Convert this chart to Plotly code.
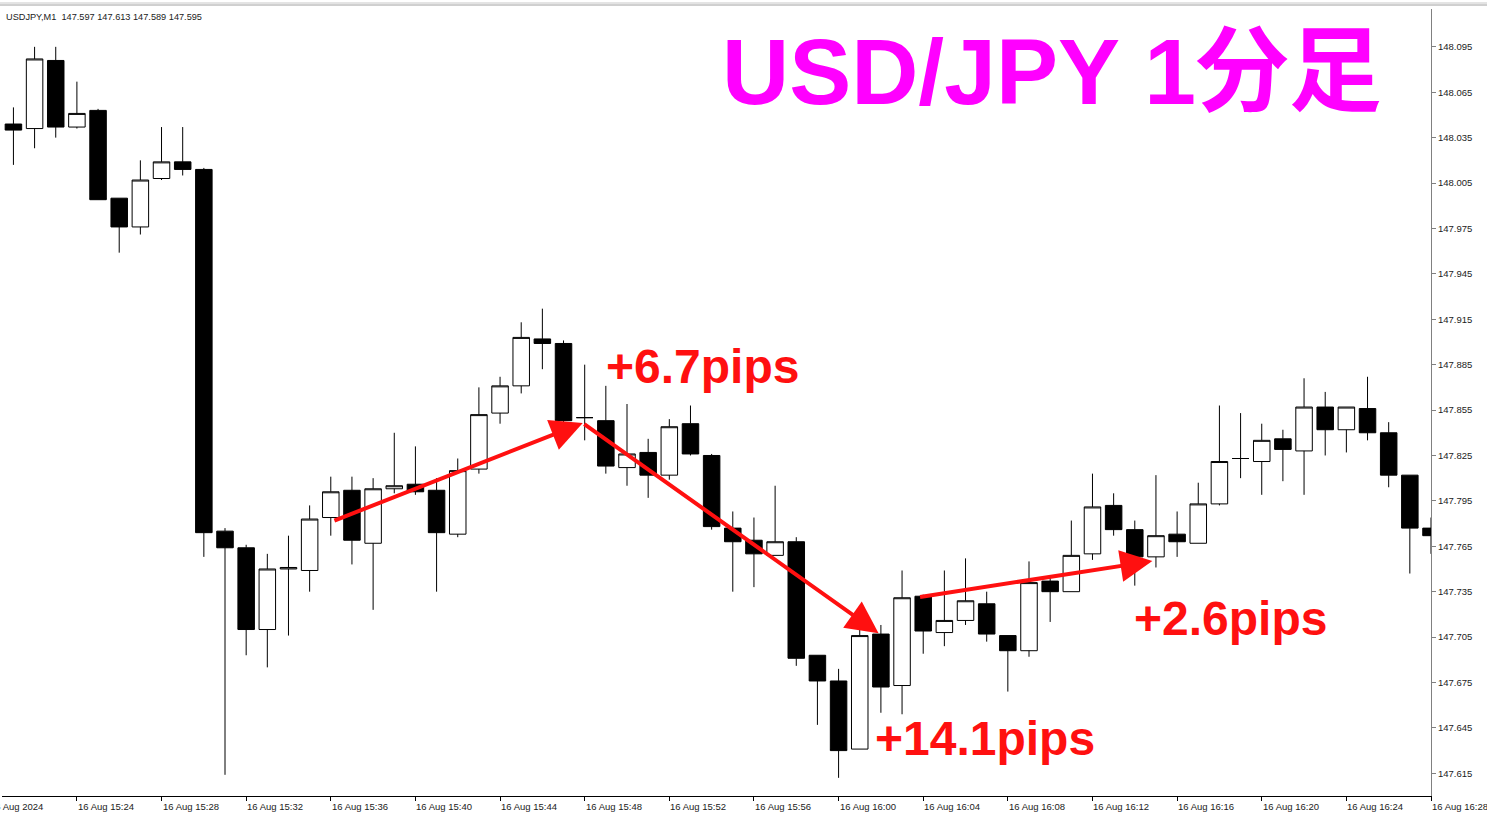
import plotly.graph_objects as go

# ─────────────────────────────────────────────────────────────
# USD/JPY M1 candles, 16 Aug 2024 15:21 .. 16:28
# ─────────────────────────────────────────────────────────────
candle_idx = list(range(68))

opens = [148.044, 148.041, 148.086, 148.042, 148.053, 147.995, 147.976, 148.008, 148.019, 148.014,
         147.775, 147.764, 147.710, 147.750, 147.749, 147.784, 147.802, 147.767, 147.803, 147.806,
         147.802, 147.773, 147.816, 147.853, 147.871, 147.902, 147.899, 147.850, 147.848, 147.817,
         147.827, 147.812, 147.846, 147.825, 147.777, 147.769, 147.759, 147.768, 147.693, 147.676,
         147.631, 147.707, 147.673, 147.732, 147.708, 147.716, 147.727, 147.706, 147.696, 147.742,
         147.735, 147.760, 147.792, 147.776, 147.758, 147.773, 147.767, 147.793, 147.823, 147.821,
         147.836, 147.828, 147.857, 147.842, 147.856, 147.840, 147.812, 147.777]

highs = [148.055, 148.095, 148.095, 148.072, 148.054, 147.995, 148.020, 148.042, 148.042, 148.015,
         147.777, 147.766, 147.760, 147.772, 147.792, 147.811, 147.811, 147.810, 147.840, 147.831,
         147.810, 147.823, 147.870, 147.877, 147.913, 147.922, 147.901, 147.885, 147.871, 147.859,
         147.836, 147.849, 147.858, 147.826, 147.788, 147.784, 147.805, 147.771, 147.693, 147.684,
         147.724, 147.713, 147.749, 147.733, 147.749, 147.757, 147.735, 147.706, 147.755, 147.744,
         147.782, 147.813, 147.800, 147.782, 147.812, 147.788, 147.807, 147.858, 147.853, 147.846,
         147.842, 147.876, 147.867, 147.857, 147.877, 147.847, 147.812, 147.784]

lows = [148.017, 148.028, 148.035, 148.041, 147.994, 147.959, 147.971, 148.007, 148.010, 147.758,
        147.614, 147.693, 147.685, 147.706, 147.735, 147.772, 147.753, 147.723, 147.800, 147.799,
        147.735, 147.771, 147.813, 147.846, 147.866, 147.882, 147.846, 147.835, 147.813, 147.805,
        147.797, 147.809, 147.825, 147.776, 147.735, 147.738, 147.759, 147.686, 147.647, 147.612,
        147.631, 147.655, 147.654, 147.694, 147.699, 147.713, 147.702, 147.669, 147.692, 147.715,
        147.735, 147.756, 147.772, 147.739, 147.751, 147.758, 147.767, 147.792, 147.810, 147.799,
        147.808, 147.799, 147.825, 147.827, 147.835, 147.804, 147.747, 147.760]

closes = [148.040, 148.087, 148.042, 148.051, 147.994, 147.976, 148.007, 148.019, 148.014, 147.774,
          147.764, 147.710, 147.750, 147.751, 147.783, 147.801, 147.769, 147.803, 147.805, 147.801,
          147.774, 147.815, 147.852, 147.871, 147.903, 147.899, 147.848, 147.850, 147.818, 147.826,
          147.812, 147.844, 147.826, 147.778, 147.768, 147.760, 147.768, 147.691, 147.676, 147.630,
          147.706, 147.672, 147.731, 147.709, 147.716, 147.729, 147.707, 147.696, 147.741, 147.735,
          147.759, 147.791, 147.776, 147.758, 147.772, 147.768, 147.793, 147.821, 147.823, 147.835,
          147.829, 147.857, 147.842, 147.857, 147.840, 147.812, 147.777, 147.772]

# time axis labels (every 4 candles, first one is cut by the window edge)
time_tick_pos = [-1, 3, 7, 11, 15, 19, 23, 27, 31, 35, 39, 43, 47, 51, 55, 59, 63, 67]
time_tick_text = ["16 Aug 2024", "16 Aug 15:24", "16 Aug 15:28", "16 Aug 15:32", "16 Aug 15:36",
                  "16 Aug 15:40", "16 Aug 15:44", "16 Aug 15:48", "16 Aug 15:52", "16 Aug 15:56",
                  "16 Aug 16:00", "16 Aug 16:04", "16 Aug 16:08", "16 Aug 16:12", "16 Aug 16:16",
                  "16 Aug 16:20", "16 Aug 16:24", "16 Aug 16:28"]

price_ticks = [147.615, 147.645, 147.675, 147.705, 147.735, 147.765, 147.795, 147.825,
               147.855, 147.885, 147.915, 147.945, 147.975, 148.005, 148.035, 148.065, 148.095]

# arrows: (tail index, tail price, head index, head price)
arrows = [
    (15.10, 147.7816, 26.91, 147.8464),
    (26.91, 147.8464, 40.89, 147.7076),
    (42.78, 147.7314, 53.83, 147.7552),
]
pip_labels = ["+6.7pips", "+14.1pips", "+2.6pips"]
pip_label_x = [32.57, 45.94, 57.51]
pip_label_y = [147.884, 147.638, 147.7175]

header = "USDJPY,M1  147.597 147.613 147.589 147.595"
title = "USD/JPY 1分足"

W, H = 1487, 822
M_L, M_R, M_T, M_B = 2, 56, 9, 26
PLOT_H = H - M_T - M_B
AXIS_FONT = dict(family="Liberation Sans, Arial, sans-serif", size=9.5, color="#222222")

fig = go.Figure()
fig.add_trace(go.Candlestick(
    x=candle_idx,
    open=opens,
    high=highs,
    low=lows,
    close=closes,
    increasing=dict(line=dict(color="black", width=1), fillcolor="white"),
    decreasing=dict(line=dict(color="black", width=1), fillcolor="black"),
    whiskerwidth=0,
    hoverinfo="skip",
    showlegend=False,
))

annotations = []

# time labels: left aligned at the tick, like MT5
for pos, txt in zip(time_tick_pos, time_tick_text):
    if pos < 0:
        annotations.append(dict(
            x=0, xref="paper", y=0, yref="paper", text=txt, showarrow=False,
            xanchor="left", yanchor="top", xshift=-14, yshift=-3, font=AXIS_FONT,
        ))
    else:
        annotations.append(dict(
            x=pos, xref="x", y=0, yref="paper", text=txt, showarrow=False,
            xanchor="left", yanchor="top", xshift=-1, yshift=-3, font=AXIS_FONT,
        ))

# header line
annotations.append(dict(
    x=0, xref="paper", y=1, yref="paper", text=header, showarrow=False,
    xanchor="left", yanchor="top", xshift=2, yshift=-1,
    font=dict(family="Liberation Sans, Arial, sans-serif", size=9.2, color="#222222"),
))

# big title
annotations.append(dict(
    x=0.735, xref="paper", y=0.92, yref="paper", text=f"<b>{title}</b>", showarrow=False,
    xanchor="center", yanchor="middle",
    font=dict(family="Liberation Sans, Noto Sans CJK JP, sans-serif", size=93, color="#FF00FF"),
))

# red arrows
for tx, ty, hx, hy in arrows:
    annotations.append(dict(
        x=hx, y=hy, xref="x", yref="y",
        ax=tx, ay=ty, axref="x", ayref="y",
        text="", showarrow=True,
        arrowhead=2, arrowsize=1.6, arrowwidth=4, arrowcolor="#FF1010", standoff=0,
    ))

# pip labels
for txt, lx, ly in zip(pip_labels, pip_label_x, pip_label_y):
    annotations.append(dict(
        x=lx, y=ly, xref="x", yref="y", text=f"<b>{txt}</b>", showarrow=False,
        xanchor="center", yanchor="middle",
        font=dict(family="Liberation Sans, Arial, sans-serif", size=48, color="#FF1010"),
    ))

fig.update_layout(
    width=W,
    height=H,
    margin=dict(l=M_L, r=M_R, t=M_T, b=M_B),
    paper_bgcolor="white",
    plot_bgcolor="white",
    showlegend=False,
    dragmode=False,
    boxgap=0.22,
    boxgroupgap=0,
    annotations=annotations,
    shapes=[
        # window border lines at the very top
        dict(type="line", xref="paper", yref="paper", x0=-0.01, x1=1.05,
             y0=1 + 4 / PLOT_H, y1=1 + 4 / PLOT_H, line=dict(color="#A0A0A0", width=1)),
        dict(type="line", xref="paper", yref="paper", x0=-0.01, x1=1.05,
             y0=1 + 6 / PLOT_H, y1=1 + 6 / PLOT_H, line=dict(color="#C8C8C8", width=1)),
    ],
)

fig.update_xaxes(
    range=[-0.54, 67.0],
    rangeslider_visible=False,
    showgrid=False,
    zeroline=False,
    showline=True,
    linecolor="black",
    linewidth=1,
    ticks="outside",
    ticklen=4,
    tickcolor="black",
    tickvals=time_tick_pos,
    showticklabels=False,
    fixedrange=True,
)

fig.update_yaxes(
    side="right",
    range=[147.600, 148.120],
    showgrid=False,
    zeroline=False,
    showline=True,
    linecolor="#808080",
    linewidth=1,
    ticks="outside",
    ticklen=4,
    tickcolor="#808080",
    tickvals=price_ticks,
    tickformat=".3f",
    tickfont=AXIS_FONT,
    fixedrange=True,
)

fig.write_html(
    "out.html",
    config={"displayModeBar": False},
    post_script="document.body.style.margin='0';document.body.style.overflow='hidden';",
)
